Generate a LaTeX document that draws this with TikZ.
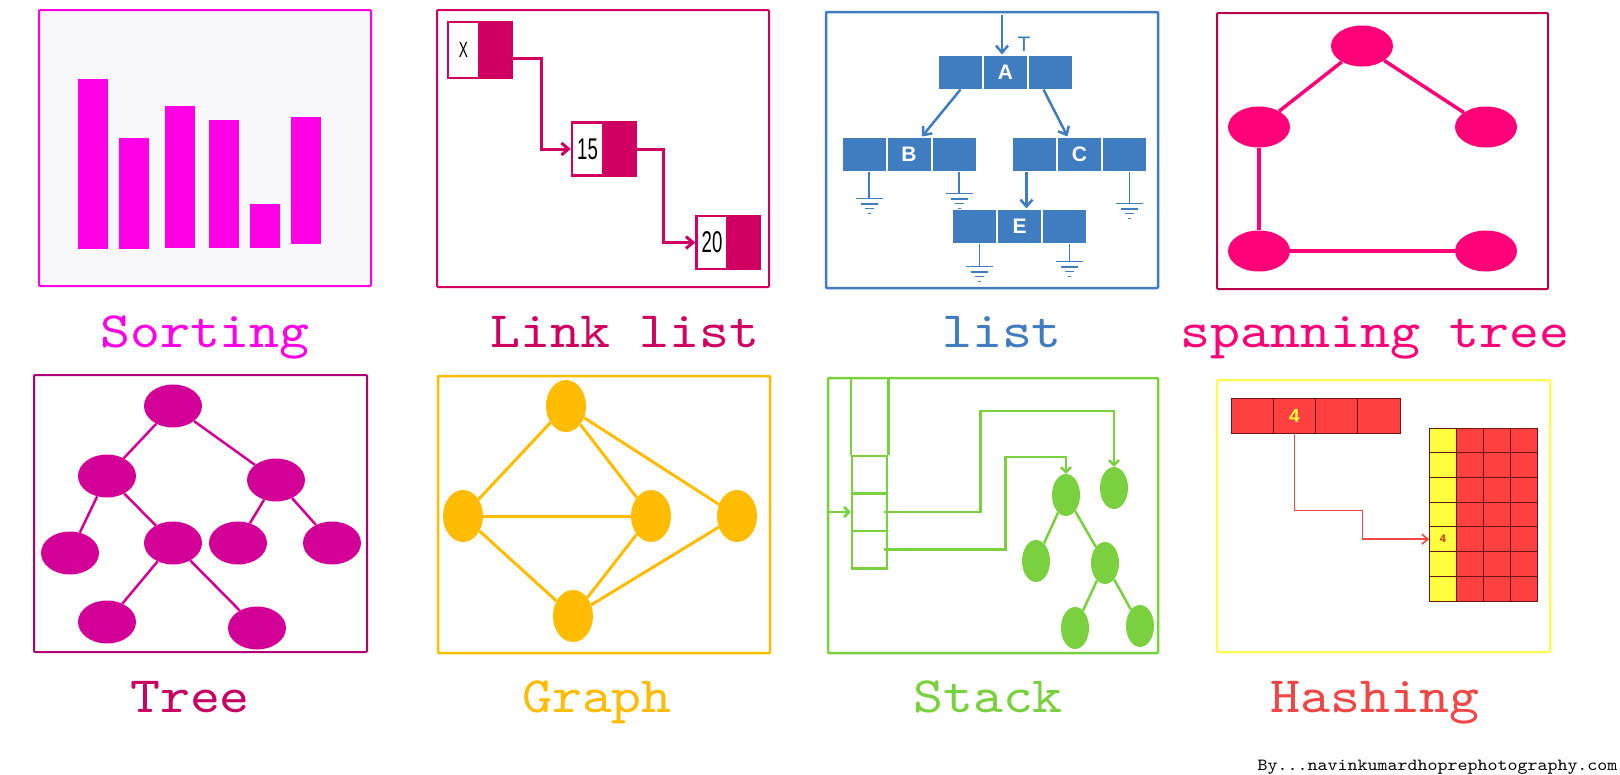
\documentclass[tikz,border=0pt]{standalone}
\usepackage{fontspec}
\usetikzlibrary{shapes.geometric,arrows.meta,positioning}
\newfontfamily\labelfont[FakeStretch=1.12]{lmmono10-regular.otf}
\newfontfamily\cellfont{Liberation Sans}
\newfontfamily\narrowfont[FakeStretch=0.62]{Liberation Sans}

\definecolor{sortcol}{RGB}{255,0,230}
\definecolor{sortbg}{RGB}{248,248,250}
\definecolor{linkcol}{RGB}{208,0,98}
\definecolor{listcol}{RGB}{64,124,192}
\definecolor{spancol}{RGB}{255,0,120}
\definecolor{spanbox}{RGB}{185,0,75}
\definecolor{treecol}{RGB}{210,0,150}
\definecolor{treebox}{RGB}{175,0,120}
\definecolor{treetxt}{RGB}{200,0,100}
\definecolor{graphcol}{RGB}{255,188,0}
\definecolor{stackcol}{RGB}{122,208,62}
\definecolor{hashred}{RGB}{255,64,64}
\definecolor{hashyel}{RGB}{255,255,64}
\definecolor{hashbox}{RGB}{250,250,90}
\definecolor{hashline}{RGB}{110,20,20}
\definecolor{hashtxt}{RGB}{240,70,70}

\tikzset{
  panel/.style={line width=2pt, rounded corners=1pt},
  title/.style={anchor=base, font=\labelfont\fontsize{51}{51}\selectfont},
  barb/.style={-{Straight Barb[length=7pt,width=12pt]}},
  lval/.style={draw=linkcol, line width=2.5pt, fill=white, minimum width=31pt,
    minimum height=53pt, inner sep=0pt, font=\narrowfont\fontsize{30}{30}\selectfont},
  lptr/.style={draw=linkcol, line width=2.5pt, fill=linkcol, minimum width=30pt,
    minimum height=53pt, inner sep=0pt},
  lcell/.style={fill=listcol, draw=white, line width=1pt, minimum width=44pt,
    minimum height=34pt, inner sep=0pt, text=white,
    font=\cellfont\bfseries\fontsize{21}{21}\selectfont},
  blob/.style={ellipse, inner sep=0pt},
  hcell/.style={fill=hashred, draw=hashline, line width=0.8pt, minimum width=42.25pt,
    minimum height=35pt, inner sep=0pt},
  gcell/.style={fill=hashred, draw=hashline, line width=0.8pt, minimum width=27pt,
    minimum height=24.7pt, inner sep=0pt},
  scell/.style={draw=stackcol, line width=2.5pt, minimum width=35pt,
    minimum height=37.5pt, inner sep=0pt}
}

\begin{document}
\begin{tikzpicture}[x=1pt,y=-1pt]
  \path[use as bounding box, fill=white] (0,0) rectangle (1620,774);

  % Sorting
  \draw[panel, sortcol, fill=sortbg] (39,10) rectangle (371,286);
  \foreach \x/\t/\b in {78/79/249,119/138/249,165/106/248,209/120/248,250/204/248,291/117/244}
    \fill[sortcol] (\x,\t) rectangle ({\x+30},\b);
  \node[title, text=sortcol] (tsort) at (205,347) {Sorting};

  % Link list
  \draw[panel, linkcol] (437,10) rectangle (769,287);
  \node[lval, minimum height=56pt, font=\narrowfont\fontsize{22}{22}\selectfont] (vx) at (463.5,50) {X};
  \node[lptr, minimum height=56pt, right=0pt of vx] (px) {};
  \node[lval] (v15) at (587.5,149) {15};
  \node[lptr, right=0pt of v15] (p15) {};
  \node[lval] (v20) at (712,242.5) {20};
  \node[lptr, right=0pt of v20] (p20) {};
  \draw[barb, linkcol, line width=3pt] ([yshift=-8pt]px.east) -- ++(29,0) |- (v15.west);
  \draw[barb, linkcol, line width=3pt] (p15.east) -- ++(27,0) |- (v20.west);
  \node[title, text=linkcol] (tlink) at (625,347) {Link list};

  % list
  \draw[panel, listcol, line width=2.5pt] (826,12) rectangle (1158,288);
  \node[lcell] (a) at (1005.5,72) {A};
  \node[lcell, left=0pt of a] (a1) {};
  \node[lcell, right=0pt of a] (a2) {};
  \node[lcell] (b) at (909,154) {B};
  \node[lcell, left=0pt of b] (b1) {};
  \node[lcell, right=0pt of b] (b2) {};
  \node[lcell] (c) at (1079.5,154) {C};
  \node[lcell, left=0pt of c] (c1) {};
  \node[lcell, right=0pt of c] (c2) {};
  \node[lcell] (e) at (1019.5,226) {E};
  \node[lcell, left=0pt of e] (e1) {};
  \node[lcell, right=0pt of e] (e2) {};
  \node[text=listcol, font=\cellfont\fontsize{21}{21}\selectfont] (tmark) at (1024,44) {T};
  \coordinate (ain) at (1002,15);
  \draw[barb, listcol, line width=2.5pt] (ain) -- (ain |- a.north);
  \draw[barb, listcol, line width=2.5pt] (a1.south) -- ([xshift=13pt]b.north);
  \draw[barb, listcol, line width=2.5pt] ([xshift=-7pt]a2.south) -- ([xshift=-12pt]c.north);
  \draw[barb, listcol, line width=2.5pt] ([xshift=-8pt]c1.south) -- ([xshift=7pt]e.north);
  \foreach \n/\len in {b1/27,b2/22,c2/32,e1/23,e2/18} {
    \draw[listcol, line width=1.5pt] ([xshift=5pt]\n.south) -- ++(0,\len) coordinate (gnd)
      (gnd) ++(-13.5,0) -- ++(27,0)
      (gnd) ++(-8.5,5.5) -- ++(17,0)
      (gnd) ++(-4.5,10) -- ++(9,0)
      (gnd) ++(-1.5,15) -- ++(3,0);
  }
  \node[title, text=listcol] (tlist) at (1002,347) {list};

  % spanning tree
  \draw[panel, spanbox] (1217,13) rectangle (1548,289);
  \foreach \n/\x/\y in {st/1362/46,sl/1259/127,sr/1486/127,sbl/1259/251,sbr/1486/251}
    \node[blob, fill=spancol, minimum width=62pt, minimum height=41pt] (\n) at (\x,\y) {};
  \foreach \a/\b in {st/sl,st/sr,sl/sbl,sbl/sbr}
    \draw[spancol, line width=3.5pt] (\a) -- (\b);
  \node[title, text=spancol] (tspan) at (1375,347) {spanning tree};

  % Tree
  \draw[panel, treebox] (34,375) rectangle (367,652);
  \foreach \n/\x/\y in {t0/173/406,tl/107/476,tr/276/480,tll/70/553,tlr/173/543,
      trl/238/543,trr/332/543,tlrl/107/622,tlrr/257/628}
    \node[blob, fill=treecol, minimum width=58pt, minimum height=43pt] (\n) at (\x,\y) {};
  \foreach \a/\b in {t0/tl,t0/tr,tl/tll,tl/tlr,tr/trl,tr/trr,tlr/tlrl,tlr/tlrr}
    \draw[treecol, line width=2.5pt] (\a) -- (\b);
  \node[title, text=treetxt] (ttree) at (190,712) {Tree};

  % Graph
  \draw[panel, graphcol, line width=2.5pt] (438,376) rectangle (770,653);
  \foreach \n/\x/\y in {gt/566/406,gl/463/516,gm/651/516,gr/737/516,gb/573/616}
    \node[blob, fill=graphcol, minimum width=40pt, minimum height=52pt] (\n) at (\x,\y) {};
  \foreach \a/\b in {gt/gl,gt/gm,gt/gr,gl/gm,gl/gb,gm/gb,gr/gb}
    \draw[graphcol, line width=3pt] (\a) -- (\b);
  \node[title, text=graphcol] (tgraph) at (597,712) {Graph};

  % Stack
  \draw[panel, stackcol, line width=2.5pt] (828,378) rectangle (1158,653);
  \node[scell] (s3) at (869.5,474.5) {};
  \node[scell] (s2) at (869.5,512) {};
  \node[scell] (s1) at (869.5,549.5) {};
  \draw[stackcol, line width=2.5pt] (s3.north west) -- ++(0,-78) (s3.north east) -- ++(0,-78);
  \coordinate (sin) at (828,512);
  \draw[-{Straight Barb[length=5pt,width=10pt]}, stackcol, line width=2.5pt] (sin) -- (s2.west);
  \foreach \n/\x/\y in {n1/1066/495,n2/1114/488,n3/1036/561,n4/1105/563,n5/1075/628,n6/1140/626}
    \node[blob, fill=stackcol, minimum width=28pt, minimum height=42pt] (\n) at (\x,\y) {};
  \foreach \a/\b in {n1/n3,n1/n4,n4/n5,n4/n6}
    \draw[stackcol, line width=2.5pt] (\a) -- (\b);
  \draw[-{Straight Barb[length=5pt,width=10pt]}, stackcol, line width=2.5pt]
    ([xshift=-4pt]s2.east) -- ++(96,0) |- ([yshift=56pt]n2.north) -- (n2.north);
  \draw[-{Straight Barb[length=5pt,width=10pt]}, stackcol, line width=2.5pt]
    ([xshift=-4pt]s1.east) -- ++(121,0) |- ([yshift=17pt]n1.north) -- (n1.north);
  \node[title, text=stackcol] (tstack) at (988,712) {Stack};

  % Hashing
  \draw[panel, hashbox, line width=2.5pt] (1217,380) rectangle (1550,652);
  \foreach \i in {1,...,4}
    \node[hcell, text=hashyel, font=\cellfont\bfseries\fontsize{19}{19}\selectfont]
      (h\i) at ({1210+42.25*\i},415.5) {\ifnum\i=2 4\fi};
  \foreach \r in {1,...,7} {
    \node[gcell, fill=hashyel, text={rgb,255:red,210;green,40;blue,0},
      font=\cellfont\bfseries\fontsize{11}{11}\selectfont]
      (g\r) at (1443,{415.65+24.7*\r}) {\ifnum\r=5 4\fi};
    \foreach \c in {1,2,3}
      \node[gcell] (g\r-\c) at ({1443+27*\c},{415.65+24.7*\r}) {};
  }
  \draw[-{Straight Barb[length=6pt,width=10pt]}, hashtxt, line width=1.6pt]
    (h2.south) -- ++(0,77) -- ++(68,0) |- (g5.west);
  \node[title, text=hashtxt] (thash) at (1375,712) {Hashing};

  \node[anchor=base east, font=\labelfont\fontsize{17}{17}\selectfont] (credit)
    at (1621,770) {By...navinkumardhoprephotography.com};
\end{tikzpicture}
\end{document}
